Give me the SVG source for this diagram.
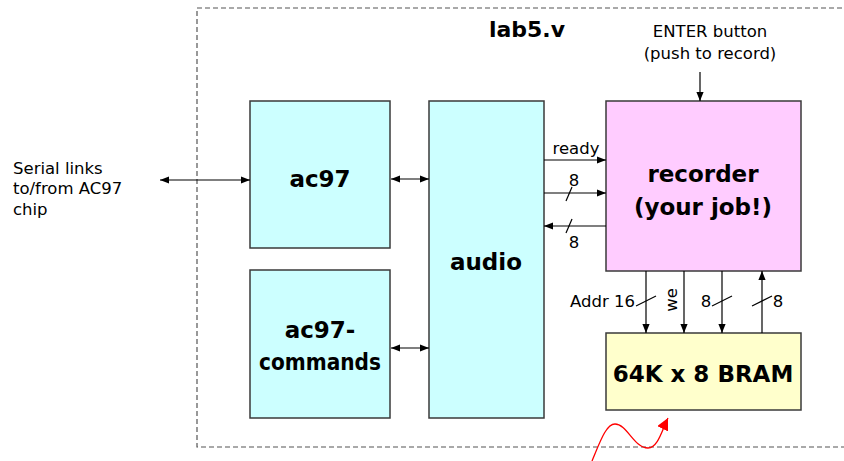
<svg xmlns="http://www.w3.org/2000/svg" width="844" height="461" viewBox="0 0 844 461">
<style>
.box{stroke:#3a3a3a;stroke-width:1.5}
.t{font-family:"DejaVu Sans",sans-serif;fill:#000}
.b{font-weight:bold;font-size:23px;text-anchor:middle}
.s{font-size:16.5px}
.w{stroke:#000;stroke-width:1.2;fill:none}
</style>
<defs>
<marker id="ah" viewBox="0 0 10 10" refX="10" refY="5" markerWidth="9" markerHeight="9" markerUnits="userSpaceOnUse" orient="auto-start-reverse"><path d="M0,1 L10,5 L0,9 z" fill="#000"/></marker>
<marker id="rh" viewBox="0 0 10 10" refX="10" refY="5" markerWidth="12" markerHeight="12" markerUnits="userSpaceOnUse" orient="auto"><path d="M0,0 L10,5 L0,10 z" fill="#f00"/></marker>
</defs>
<rect width="844" height="461" fill="#fff"/>
<path d="M850,8 H197 V447 H850" fill="none" stroke="#555" stroke-width="1.2" stroke-dasharray="5,3"/>
<text class="t" x="527" y="37" font-size="22" font-weight="bold" text-anchor="middle">lab5.v</text>
<text class="t s" x="710" y="37" text-anchor="middle">ENTER button</text>
<text class="t s" x="710" y="59" text-anchor="middle">(push to record)</text>
<text class="t s" x="13" y="174">Serial links</text>
<text class="t s" x="13" y="194">to/from AC97</text>
<text class="t s" x="13" y="215">chip</text>
<g id="ac97"><rect class="box" x="250" y="101" width="140" height="147" fill="#ccffff"/><text class="t b" x="320" y="187">ac97</text></g>
<g id="ac97-commands"><rect class="box" x="250" y="270" width="140" height="148" fill="#ccffff"/><text class="t b" x="320" y="338">ac97-</text><text class="t b" x="320" y="370" font-size="21" textLength="122" lengthAdjust="spacingAndGlyphs">commands</text></g>
<g id="audio"><rect class="box" x="429" y="101" width="115" height="317" fill="#ccffff"/><text class="t b" x="486" y="270">audio</text></g>
<g id="recorder"><rect class="box" x="606" y="101" width="195" height="170" fill="#ffccff"/><text class="t b" x="703" y="182">recorder</text><text class="t b" x="703" y="215">(your job!)</text></g>
<g id="bram"><rect class="box" x="606" y="333" width="195" height="77" fill="#ffffcc"/><text class="t b" x="703" y="382">64K x 8 BRAM</text></g>
<g id="connectors">
<line class="w" x1="160" y1="180" x2="250" y2="180" marker-start="url(#ah)" marker-end="url(#ah)"/>
<line class="w" x1="391" y1="179" x2="429" y2="179" marker-start="url(#ah)" marker-end="url(#ah)"/>
<line class="w" x1="391" y1="348" x2="429" y2="348" marker-start="url(#ah)" marker-end="url(#ah)"/>
<line class="w" x1="700" y1="72" x2="700" y2="101" marker-end="url(#ah)"/>
<line class="w" x1="544" y1="160" x2="606" y2="160" marker-end="url(#ah)"/>
<line class="w" x1="544" y1="193" x2="606" y2="193" marker-end="url(#ah)"/>
<line class="w" x1="566" y1="201" x2="572" y2="187"/>
<line class="w" x1="606" y1="226" x2="544" y2="226" marker-end="url(#ah)"/>
<line class="w" x1="566" y1="233" x2="572" y2="219"/>
<line class="w" x1="646" y1="271" x2="646" y2="333" marker-end="url(#ah)"/>
<line class="w" x1="684" y1="271" x2="684" y2="333" marker-end="url(#ah)"/>
<line class="w" x1="722" y1="271" x2="722" y2="333" marker-end="url(#ah)"/>
<line class="w" x1="762" y1="333" x2="762" y2="271" marker-end="url(#ah)"/>
<line class="w" x1="636" y1="306" x2="656" y2="296"/>
<line class="w" x1="712" y1="306" x2="732" y2="296"/>
<line class="w" x1="752" y1="306" x2="772" y2="296"/>
<path d="M592,461 C600,442 606,424 615,424 C627,424 634,448 648,448 C658,448 662,430 668,418" fill="none" stroke="#f00" stroke-width="1.3" marker-end="url(#rh)"/>
</g>
<text class="t s" x="576" y="154" text-anchor="middle">ready</text>
<text class="t s" x="574" y="186" text-anchor="middle">8</text>
<text class="t s" x="574" y="248" text-anchor="middle">8</text>
<text class="t s" x="635" y="307" text-anchor="end">Addr 16</text>
<text class="t s" x="0" y="0" text-anchor="middle" transform="translate(677,300) rotate(-90)">we</text>
<text class="t s" x="706" y="307" text-anchor="middle">8</text>
<text class="t s" x="778" y="307" text-anchor="middle">8</text>
</svg>
